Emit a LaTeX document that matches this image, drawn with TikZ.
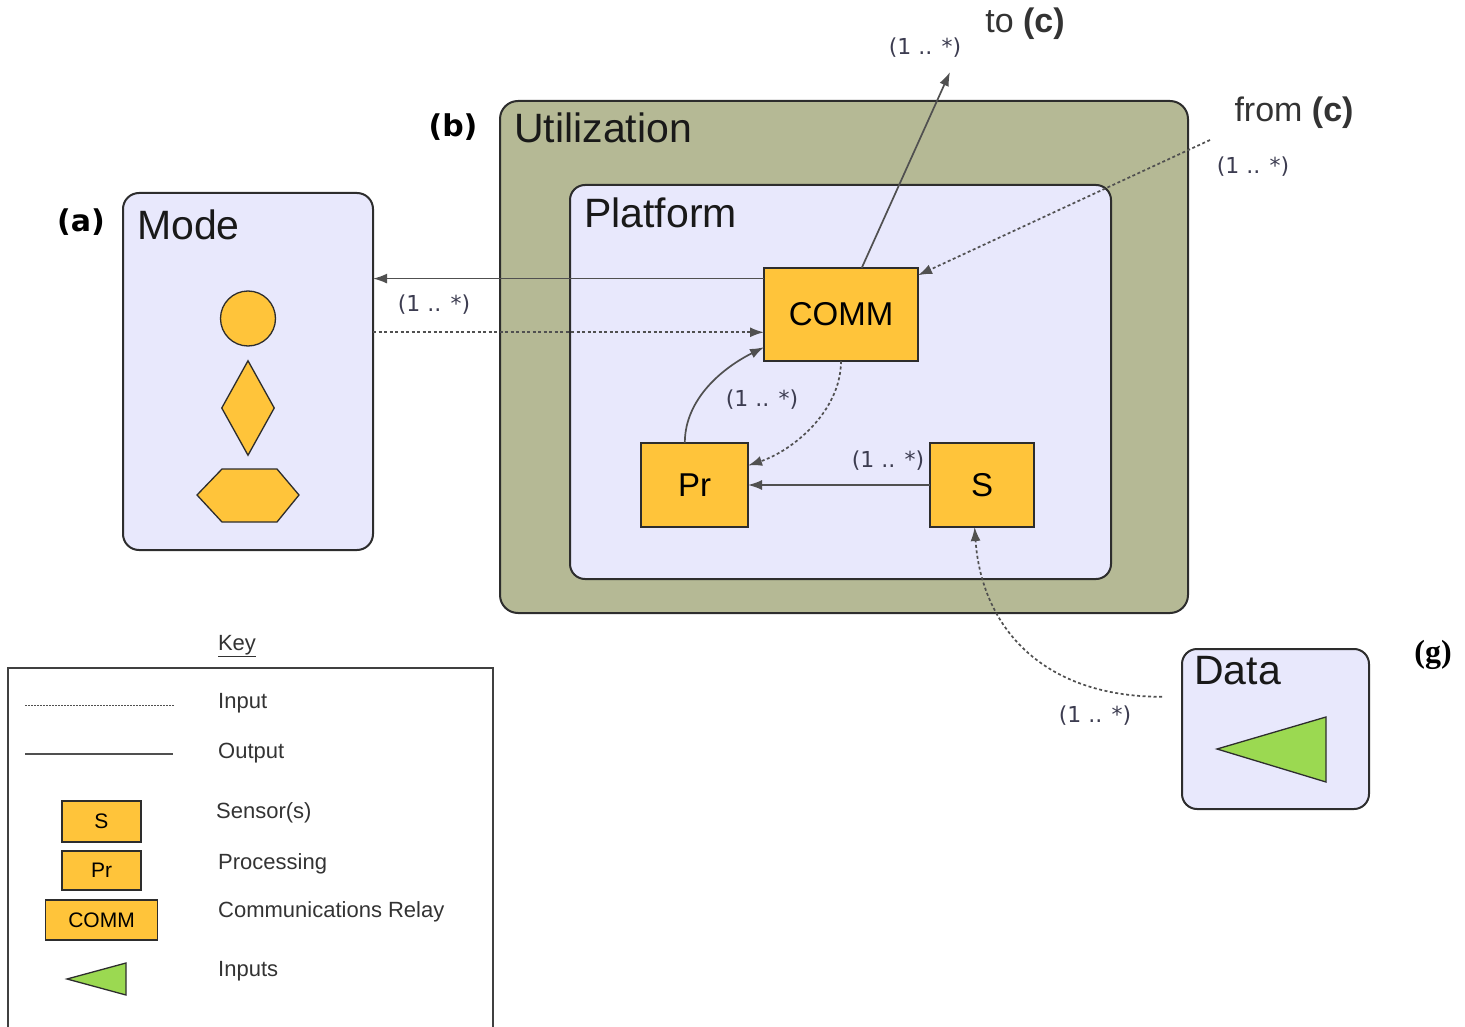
\documentclass[tikz,border=0pt]{standalone}
\usepackage{fontspec}
\setmainfont{Liberation Sans}
\newfontfamily\labelfont{DejaVu Sans}
\newfontfamily\serifbold{Liberation Serif}
\usetikzlibrary{positioning,arrows.meta,shapes.geometric}
\tikzset{>={Latex[width=10pt,length=14pt]}}
\definecolor{lavender}{RGB}{232,232,252}
\definecolor{utilolive}{RGB}{181,185,149}
\definecolor{amber}{RGB}{255,196,58}
\definecolor{leaf}{RGB}{155,217,81}
\definecolor{edge}{RGB}{45,45,45}
\definecolor{wire}{RGB}{80,80,80}
\definecolor{multc}{RGB}{60,60,80}

\begin{document}
\begin{tikzpicture}[x=1pt, y=-1pt,
panel/.style = {draw=edge, line width=2pt, rounded corners=#1,
                inner sep=0pt, outer sep=0pt},
panel/.default = 14pt,
unit/.style = {draw=edge, fill=amber, line width=1.8pt,
               inner sep=0pt, outer sep=0pt,
               font=\fontsize{33}{36}\selectfont},
keyunit/.style = {unit, line width=1.4pt, font=\fontsize{21}{24}\selectfont},
icon/.style = {draw=edge, fill=#1, line width=1.3pt},
icon/.default = amber,
title/.style = {anchor=base west, inner sep=0pt, text=black!90,
                font=\fontsize{41}{48}\selectfont},
mult/.style = {inner sep=0pt, text=multc,
               font=\labelfont\fontsize{22}{26}\selectfont},
tag/.style = {inner sep=0pt, font=\labelfont\bfseries\fontsize{30}{34}\selectfont},
keytext/.style = {anchor=base west, inner sep=0pt, text=black!80,
                  font=\fontsize{22}{26}\selectfont},
outflow/.style = {->, draw=wire, line width=1.7pt},
inflow/.style = {->, draw=wire, line width=1.7pt, dash pattern=on 3pt off 2.5pt},
]
\useasboundingbox (0,0) rectangle (1465,1027);
        % panels
        \node (util) [panel=18pt, fill=utilolive, minimum width=688pt,
                      minimum height=512pt] at (844,357) {};
        \node (plat) [panel=15pt, fill=lavender, minimum width=541pt,
                      minimum height=394pt] at (840.5,382) {};
        \node (mode) [panel=16pt, fill=lavender, minimum width=250pt,
                      minimum height=357pt] at (248,371.5) {};
        \node (data) [panel=15pt, fill=lavender, minimum width=187pt,
                      minimum height=160pt] at (1275.5,729) {};
        \node (utiltitle) [title] at (514,143) {Utilization};
        \node (plattitle) [title] at (584,228) {Platform};
        \node (modetitle) [title] at (137,240) {Mode};
        \node (datatitle) [title] at (1194,684) {Data};
        \node (taga) [tag] at (81,222) {(a)};
        \node (tagb) [tag] at (453,127) {(b)};
        \node (tagg) [inner sep=0pt,
                      font=\serifbold\bfseries\fontsize{32}{36}\selectfont]
                      at (1433,655) {(g)};
        % units
        \node (comm) [unit, minimum width=154pt, minimum height=93pt]
                     at (841,314.5) {COMM};
        \node (pr)   [unit, minimum width=107pt, minimum height=84pt]
                     at (694.5,485) {Pr};
        \node (s)    [unit, minimum width=104pt, minimum height=84pt]
                     at (982,485) {S};
        % mode icons
        \node (ring) [circle, icon, minimum size=55pt, inner sep=0pt]
                     at (248,318.5) {};
        \node (gem)  [diamond, icon, minimum width=53pt, minimum height=95pt,
                      inner sep=0pt] at (248,408) {};
        \draw[icon] (197,495) -- (222,469) -- (277,469) -- (299,495)
                    -- (277,522) -- (222,522) -- cycle;
        % data icon
        \draw[icon=leaf] (1217,749) -- (1326,717) -- (1326,782) -- cycle;
        % connectors
        \draw[outflow] (comm.155) -- (comm.155 -| mode.east);
        \node (m1) [mult] at (434,305) {(1 .. *)};
        \draw[inflow] (comm.193 -| mode.east) -- (comm.193);
        \draw[outflow] (pr.103) .. controls +(0,-45) and +(-40,20) .. (comm.203);
        \node (m2) [mult] at (762,400) {(1 .. *)};
        \draw[inflow] (comm.south) .. controls +(0,50) and +(45,-15) .. (pr.20);
        \draw[outflow] (s.west) -- (pr.east);
        \node (m3) [mult] at (888,461) {(1 .. *)};
        \coordinate (toc) at (950,72);
        \draw[outflow] (comm.66) -- (toc);
        \node (m4) [mult] at (925,48) {(1 .. *)};
        \node (tolbl) [inner sep=0pt, text=black!80,
                       font=\fontsize{34}{40}\selectfont]
                       at (1025,24) {to \textbf{(c)}};
        \coordinate (fromc) at (1210,140);
        \draw[inflow] (fromc) -- (comm.27);
        \node (m5) [mult] at (1253,167) {(1 .. *)};
        \node (fromlbl) [inner sep=0pt, text=black!80,
                         font=\fontsize{34}{40}\selectfont]
                         at (1294,113) {from \textbf{(c)}};
        \draw[inflow, shorten <=20pt] (data.161)
              .. controls +(-140,0) and +(7,100) .. (s.260);
        \node (m6) [mult] at (1095,716) {(1 .. *)};
        % key
        \node (keytitle) [inner sep=0pt, text=black!80,
                          font=\fontsize{22}{26}\selectfont]
                          at (237,646) {\underline{Key}};
        \node (keybox) [draw=black!75, line width=1.3pt, minimum width=485pt,
                        minimum height=372pt] at (250.5,854) {};
        \coordinate (in0) at (25,705);
        \coordinate (in1) at (175,705);
        \draw[draw=wire, line width=1pt, dash pattern=on 1.5pt off 1.5pt] (in0) -- (in1);
        \coordinate (out0) at (25,754);
        \coordinate (out1) at (173,754);
        \draw[draw=wire, line width=1.3pt] (out0) -- (out1);
        \node (keys)    [keyunit, minimum width=79pt, minimum height=41pt]
                        at (101.5,821.5) {S};
        \node (keypr)   [keyunit, minimum width=79pt, minimum height=39pt,
                        below=9pt of keys] {Pr};
        \node (keycomm) [keyunit, minimum width=112pt, minimum height=40pt,
                        below=10pt of keypr] {COMM};
        \draw[icon=leaf] (67,979) -- (126,963) -- (126,995) -- cycle;
        \node (kin)   [keytext] at (218,708) {Input};
        \node (kout)  [keytext] at (218,758) {Output};
        \node (ksen)  [keytext] at (216,818) {Sensor(s)};
        \node (kpro)  [keytext] at (218,869) {Processing};
        \node (kcom)  [keytext] at (218,917) {Communications Relay};
        \node (kinp)  [keytext] at (218,976) {Inputs};
\end{tikzpicture}
\end{document}
